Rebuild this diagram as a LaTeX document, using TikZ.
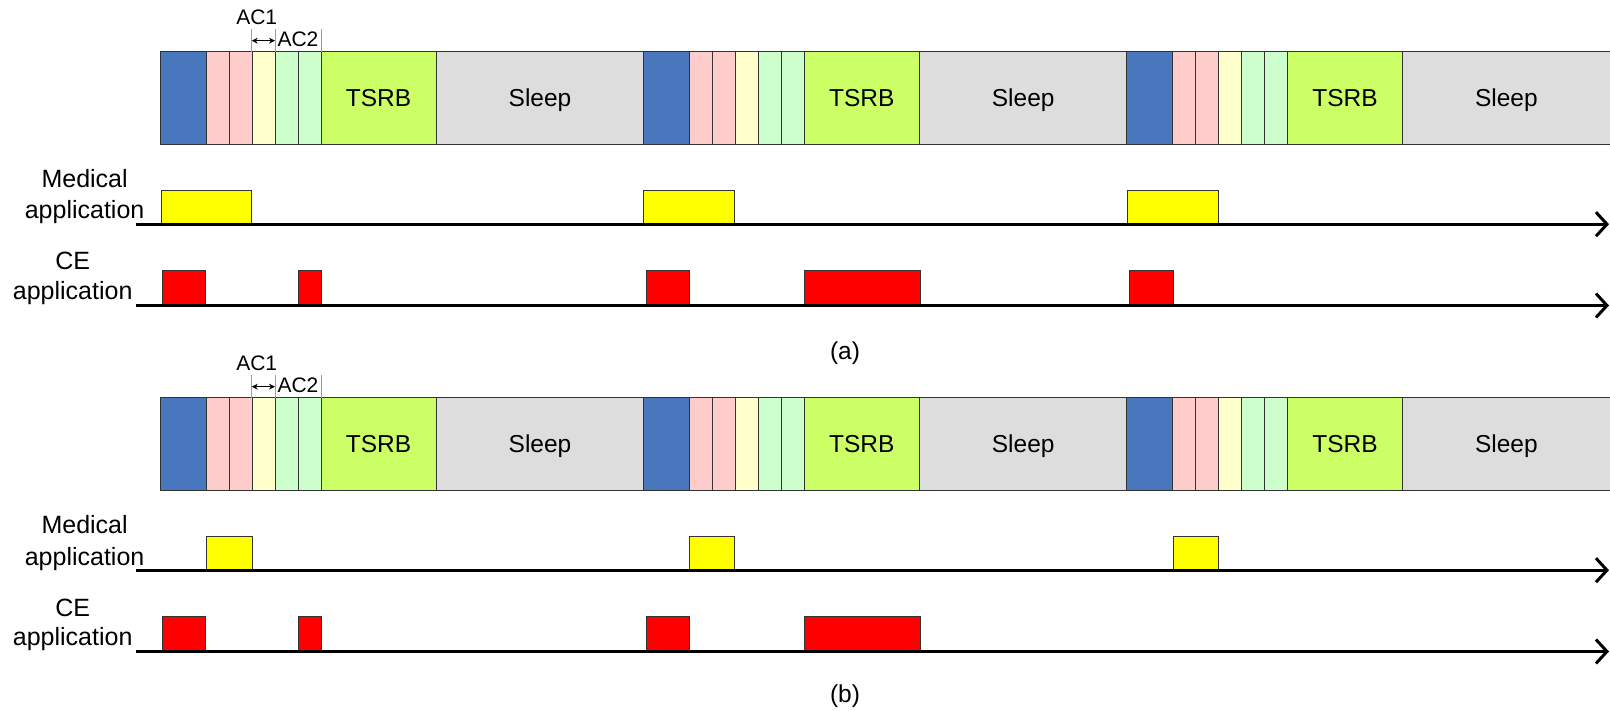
\documentclass[tikz,border=0pt]{standalone}
\usepackage{fontspec}
\setmainfont{Liberation Sans}
\usetikzlibrary{arrows.meta}
\definecolor{cblue}{HTML}{4877BE}
\definecolor{cpink}{HTML}{FFCCCC}
\definecolor{cyel}{HTML}{FFFFCC}
\definecolor{cgreen}{HTML}{CCFFCC}
\definecolor{ctsrb}{HTML}{CCFF66}
\definecolor{csleep}{HTML}{DDDDDD}
\definecolor{tickblue}{HTML}{7FA3D6}
\definecolor{medyellow}{HTML}{FFFF00}
\definecolor{cered}{HTML}{FF0000}
\begin{document}
\begin{tikzpicture}[x=1pt,y=-1pt,
  cell/.style={draw=black!80,line width=0.9pt},
  lbl/.style={font=\fontsize{24.5}{28}\selectfont,inner sep=0pt},
  rowlbl/.style={font=\fontsize{25}{28}\selectfont,inner sep=0pt},
  small/.style={font=\fontsize{21}{24}\selectfont,inner sep=0pt},
  axis/.style={line width=3pt,-{Straight Barb[length=11pt,width=24pt]}},
  medbox/.style={draw=black!80,line width=0.9pt,fill=medyellow},
  cebox/.style={draw=black!80,line width=0.9pt,fill=cered},
  tick/.style={draw=tickblue,line width=0.9pt},
  acarrow/.style={line width=0.9pt,{Stealth[length=6pt,width=6pt]}-{Stealth[length=6pt,width=6pt]}}]
\useasboundingbox (0,0) rectangle (1610,711);
\fill[white] (0,0) rectangle (1610,711);

\foreach \part/\oy in {a/0,b/346}{
  % superframe bars
  \foreach \k/\s in {1/160,2/643.2,3/1126.4}{
    \draw[cell,fill=cblue]  (\s,51.7+\oy) rectangle (\s+46,144.3+\oy);
    \draw[cell,fill=cpink]  (\s+46,51.7+\oy) rectangle (\s+69,144.3+\oy);
    \draw[cell,fill=cpink]  (\s+69,51.7+\oy) rectangle (\s+92,144.3+\oy);
    \draw[cell,fill=cyel]   (\s+92,51.7+\oy) rectangle (\s+115,144.3+\oy);
    \draw[cell,fill=cgreen] (\s+115,51.7+\oy) rectangle (\s+138,144.3+\oy);
    \draw[cell,fill=cgreen] (\s+138,51.7+\oy) rectangle (\s+161,144.3+\oy);
    \draw[cell,fill=ctsrb]  (\s+161,51.7+\oy) rectangle (\s+276.3,144.3+\oy);
    \draw[cell,fill=csleep] (\s+276.3,51.7+\oy) rectangle (\s+490,144.3+\oy);
    \node[lbl,anchor=base] (tsrb-\part\k) at (\s+218.6,106.6+\oy) {TSRB};
    \node[lbl,anchor=base] (sleep-\part\k) at (\s+380,106.6+\oy) {Sleep};
  }
  % AC markers
  \coordinate (t1-\part) at (251.7,29.3+\oy);
  \coordinate (t2-\part) at (275,29.3+\oy);
  \coordinate (t3-\part) at (321,29.3+\oy);
  \coordinate (b1-\part) at (251.7,51.7+\oy);
  \coordinate (b2-\part) at (275,51.7+\oy);
  \coordinate (b3-\part) at (321,51.7+\oy);
  \draw[tick] (t1-\part) -- (b1-\part);
  \draw[tick] (t2-\part) -- (b2-\part);
  \draw[tick] (t3-\part) -- (b3-\part);
  \coordinate (al-\part) at (251.7,40.7+\oy);
  \coordinate (ar-\part) at (275,40.7+\oy);
  \draw[acarrow] (al-\part) -- (ar-\part);
  \node[small,anchor=base] (ac1-\part) at (256.7,24.3+\oy) {AC1};
  \node[small,anchor=base] (ac2-\part) at (298,46.7+\oy) {AC2};

  % row labels
  \node[rowlbl,anchor=base] (med1-\part) at (84.6,187.7+\oy) {Medical};
  \node[rowlbl,anchor=base] (med2-\part) at (84.6,219+\oy) {application};
  \node[rowlbl,anchor=base] (ce1-\part) at (72.7,270+\oy) {CE};
  \node[rowlbl,anchor=base] (ce2-\part) at (72.7,299.3+\oy) {application};

  % CE boxes common to both
  \draw[cebox] (162.3,270.7+\oy) rectangle (205.7,305.3+\oy);
  \draw[cebox] (298,270.7+\oy) rectangle (321.3,305.3+\oy);
  \draw[cebox] (646,270.7+\oy) rectangle (689.3,305.3+\oy);
  \draw[cebox] (804.3,270.7+\oy) rectangle (920,305.3+\oy);
}

% part (a) specific boxes
\draw[medbox] (161.5,190.3) rectangle (251.7,224.2);
\draw[medbox] (643.3,190.3) rectangle (734.7,224.2);
\draw[medbox] (1127,190.3) rectangle (1218.3,224.2);
\draw[cebox] (1129.3,270.7) rectangle (1173.3,305.3);

% part (b) specific boxes
\draw[medbox] (206,536) rectangle (252.3,570.2);
\draw[medbox] (689.3,536) rectangle (734.7,570.2);
\draw[medbox] (1173,536) rectangle (1218.3,570.2);

% axes
\foreach \part/\oy in {a/0,b/346}{
  \coordinate (ms-\part) at (136,224.2+\oy);
  \coordinate (me-\part) at (1609,224.2+\oy);
  \coordinate (cs-\part) at (136,305.5+\oy);
  \coordinate (ce-\part) at (1609,305.5+\oy);
  \draw[axis] (ms-\part) -- (me-\part);
  \draw[axis] (cs-\part) -- (ce-\part);
}

\node[lbl] (cap-a) at (845,353) {(a)};
\node[lbl] (cap-b) at (845,696) {(b)};
\end{tikzpicture}
\end{document}
